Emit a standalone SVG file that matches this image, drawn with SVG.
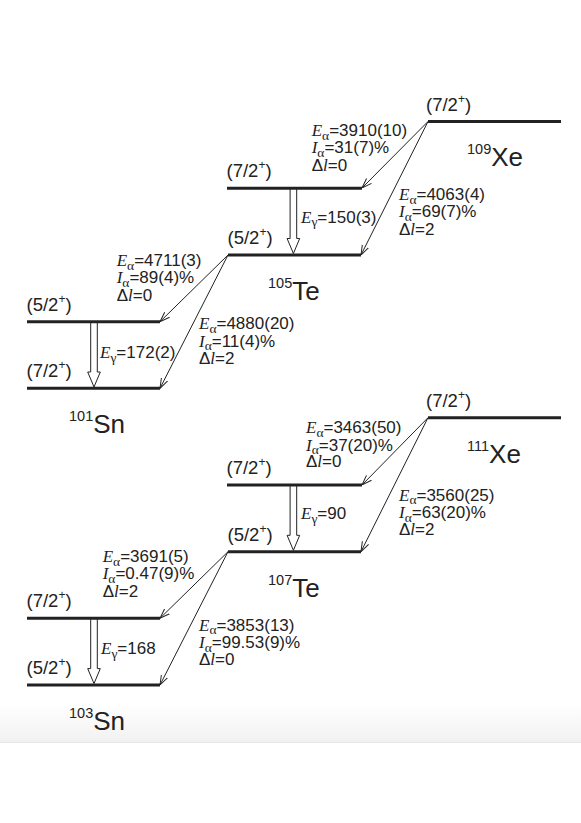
<svg xmlns="http://www.w3.org/2000/svg" width="581" height="823" viewBox="0 0 581 823">
<style>
.lvl{stroke:#222;stroke-width:3;fill:none}
.a{stroke:#222;stroke-width:1;fill:none;marker-end:url(#ah)}
.g{stroke:#222;stroke-width:1;fill:#fff}
text{font-family:"Liberation Sans",Arial,sans-serif;fill:#222}
.t{font-size:17px}
.lb{font-size:18.5px}
.nu{font-size:26px}
.ns{font-size:14.5px}
.it{font-family:"Liberation Serif","Times New Roman",serif;font-style:italic}
.sub{font-family:"Liberation Serif","Times New Roman",serif;font-size:13.5px}
.sup{font-size:12px}
</style>
<defs>
<marker id="ah" viewBox="0 0 10 10" refX="10" refY="5" markerWidth="10" markerHeight="10" markerUnits="userSpaceOnUse" orient="auto">
<path d="M0,1.5 L10,5 L0,8.5" fill="none" stroke="#222" stroke-width="1"/>
</marker>
<path id="garr" d="M-3.3,0 V50 H-6.3 L0,65 L6.3,50 H3.3 V0 Z"/>
<linearGradient id="bg" x1="0" y1="0" x2="0" y2="1">
<stop offset="0" stop-color="#ffffff"/>
<stop offset="1" stop-color="#f1f1f1"/>
</linearGradient>
</defs>
<rect x="0" y="0" width="581" height="823" fill="#fff"/>
<rect x="0" y="705" width="581" height="37" fill="url(#bg)"/>
<line x1="0" y1="742.5" x2="581" y2="742.5" stroke="#e6e6e6" stroke-width="1"/>

<g id="connectors">
<line class="a" x1="428" y1="121.5" x2="362" y2="188"/>
<line class="a" x1="428" y1="121.5" x2="361" y2="255"/>
<line class="a" x1="228" y1="255" x2="160" y2="321.7"/>
<line class="a" x1="228" y1="255" x2="160" y2="388.3"/>
<line class="a" x1="428" y1="417.7" x2="362" y2="485"/>
<line class="a" x1="428" y1="417.7" x2="361" y2="551.7"/>
<line class="a" x1="228" y1="551.7" x2="160" y2="618.3"/>
<line class="a" x1="228" y1="551.7" x2="160" y2="685"/>
<use href="#garr" class="g" transform="translate(293.4,188.5)"/>
<use href="#garr" class="g" transform="translate(94,322)"/>
<use href="#garr" class="g" transform="translate(293.4,485.3)"/>
<use href="#garr" class="g" transform="translate(94,618.6)"/>
</g>

<g id="xe109">
<line class="lvl" x1="428" y1="121.5" x2="561" y2="121.5"/>
<text class="lb" x="426" y="110.5">(7/2<tspan class="sup" dy="-8">+</tspan><tspan dy="8">)</tspan></text>
<text x="467" y="166"><tspan class="ns" dy="-12">109</tspan><tspan class="nu" dy="12">Xe</tspan></text>
</g>
<g id="te105-72">
<line class="lvl" x1="227" y1="188.3" x2="362" y2="188.3"/>
<text class="lb" x="226.5" y="177.3">(7/2<tspan class="sup" dy="-8">+</tspan><tspan dy="8">)</tspan></text>
</g>
<g id="te105-52">
<line class="lvl" x1="228" y1="255" x2="361" y2="255"/>
<text class="lb" x="227.5" y="244">(5/2<tspan class="sup" dy="-8">+</tspan><tspan dy="8">)</tspan></text>
<text x="268" y="300"><tspan class="ns" dy="-12">105</tspan><tspan class="nu" dy="12">Te</tspan></text>
</g>
<g id="sn101-52">
<line class="lvl" x1="27" y1="321.7" x2="160" y2="321.7"/>
<text class="lb" x="26.5" y="310.7">(5/2<tspan class="sup" dy="-8">+</tspan><tspan dy="8">)</tspan></text>
</g>
<g id="sn101-72">
<line class="lvl" x1="27" y1="388.3" x2="160" y2="388.3"/>
<text class="lb" x="26.5" y="377.3">(7/2<tspan class="sup" dy="-8">+</tspan><tspan dy="8">)</tspan></text>
<text x="69" y="433"><tspan class="ns" dy="-12">101</tspan><tspan class="nu" dy="12">Sn</tspan></text>
</g>

<g id="xe111">
<line class="lvl" x1="428" y1="417.7" x2="561" y2="417.7"/>
<text class="lb" x="426" y="407">(7/2<tspan class="sup" dy="-8">+</tspan><tspan dy="8">)</tspan></text>
<text x="467" y="463"><tspan class="ns" dy="-12">111</tspan><tspan class="nu" dy="12">Xe</tspan></text>
</g>
<g id="te107-72">
<line class="lvl" x1="227" y1="485" x2="362" y2="485"/>
<text class="lb" x="226.5" y="474">(7/2<tspan class="sup" dy="-8">+</tspan><tspan dy="8">)</tspan></text>
</g>
<g id="te107-52">
<line class="lvl" x1="228" y1="551.7" x2="361" y2="551.7"/>
<text class="lb" x="227.5" y="540.7">(5/2<tspan class="sup" dy="-8">+</tspan><tspan dy="8">)</tspan></text>
<text x="268" y="597"><tspan class="ns" dy="-12">107</tspan><tspan class="nu" dy="12">Te</tspan></text>
</g>
<g id="sn103-72">
<line class="lvl" x1="27" y1="618.3" x2="160" y2="618.3"/>
<text class="lb" x="26.5" y="607.3">(7/2<tspan class="sup" dy="-8">+</tspan><tspan dy="8">)</tspan></text>
</g>
<g id="sn103-52">
<line class="lvl" x1="27" y1="685" x2="160" y2="685"/>
<text class="lb" x="26.5" y="674">(5/2<tspan class="sup" dy="-8">+</tspan><tspan dy="8">)</tspan></text>
<text x="69" y="730"><tspan class="ns" dy="-12">103</tspan><tspan class="nu" dy="12">Sn</tspan></text>
</g>

<g id="labels">
<text class="t" x="311.7" y="136"><tspan class="it">E</tspan><tspan class="sub" dy="3.5">α</tspan><tspan dy="-3.5">=3910(10)</tspan></text>
<text class="t" x="311.7" y="153.3"><tspan class="it">I</tspan><tspan class="sub" dy="3.5">α</tspan><tspan dy="-3.5">=31(7)%</tspan></text>
<text class="t" x="311.7" y="170.7">Δ<tspan class="it">l</tspan>=0</text>

<text class="t" x="399" y="200"><tspan class="it">E</tspan><tspan class="sub" dy="3.5">α</tspan><tspan dy="-3.5">=4063(4)</tspan></text>
<text class="t" x="399" y="217.3"><tspan class="it">I</tspan><tspan class="sub" dy="3.5">α</tspan><tspan dy="-3.5">=69(7)%</tspan></text>
<text class="t" x="399" y="234.7">Δ<tspan class="it">l</tspan>=2</text>

<text class="t" x="301" y="222.7"><tspan class="it">E</tspan><tspan class="sub" dy="3.5">γ</tspan><tspan dy="-3.5">=150(3)</tspan></text>

<text class="t" x="116.7" y="266"><tspan class="it">E</tspan><tspan class="sub" dy="3.5">α</tspan><tspan dy="-3.5">=4711(3)</tspan></text>
<text class="t" x="116.7" y="283.3"><tspan class="it">I</tspan><tspan class="sub" dy="3.5">α</tspan><tspan dy="-3.5">=89(4)%</tspan></text>
<text class="t" x="116.7" y="300.7">Δ<tspan class="it">l</tspan>=0</text>

<text class="t" x="199" y="329.3"><tspan class="it">E</tspan><tspan class="sub" dy="3.5">α</tspan><tspan dy="-3.5">=4880(20)</tspan></text>
<text class="t" x="199" y="346.7"><tspan class="it">I</tspan><tspan class="sub" dy="3.5">α</tspan><tspan dy="-3.5">=11(4)%</tspan></text>
<text class="t" x="199" y="364">Δ<tspan class="it">l</tspan>=2</text>

<text class="t" x="100" y="358.3"><tspan class="it">E</tspan><tspan class="sub" dy="3.5">γ</tspan><tspan dy="-3.5">=172(2)</tspan></text>

<text class="t" x="306" y="433.3"><tspan class="it">E</tspan><tspan class="sub" dy="3.5">α</tspan><tspan dy="-3.5">=3463(50)</tspan></text>
<text class="t" x="306" y="450.7"><tspan class="it">I</tspan><tspan class="sub" dy="3.5">α</tspan><tspan dy="-3.5">=37(20)%</tspan></text>
<text class="t" x="306" y="467.3">Δ<tspan class="it">l</tspan>=0</text>

<text class="t" x="399" y="500.7"><tspan class="it">E</tspan><tspan class="sub" dy="3.5">α</tspan><tspan dy="-3.5">=3560(25)</tspan></text>
<text class="t" x="399" y="518"><tspan class="it">I</tspan><tspan class="sub" dy="3.5">α</tspan><tspan dy="-3.5">=63(20)%</tspan></text>
<text class="t" x="399" y="535">Δ<tspan class="it">l</tspan>=2</text>

<text class="t" x="301" y="519.3"><tspan class="it">E</tspan><tspan class="sub" dy="3.5">γ</tspan><tspan dy="-3.5">=90</tspan></text>

<text class="t" x="102.7" y="562.3"><tspan class="it">E</tspan><tspan class="sub" dy="3.5">α</tspan><tspan dy="-3.5">=3691(5)</tspan></text>
<text class="t" x="102.7" y="579.3"><tspan class="it">I</tspan><tspan class="sub" dy="3.5">α</tspan><tspan dy="-3.5">=0.47(9)%</tspan></text>
<text class="t" x="102.7" y="596.7">Δ<tspan class="it">l</tspan>=2</text>

<text class="t" x="199" y="630.7"><tspan class="it">E</tspan><tspan class="sub" dy="3.5">α</tspan><tspan dy="-3.5">=3853(13)</tspan></text>
<text class="t" x="199" y="648"><tspan class="it">I</tspan><tspan class="sub" dy="3.5">α</tspan><tspan dy="-3.5">=99.53(9)%</tspan></text>
<text class="t" x="199" y="665">Δ<tspan class="it">l</tspan>=0</text>

<text class="t" x="101" y="654"><tspan class="it">E</tspan><tspan class="sub" dy="3.5">γ</tspan><tspan dy="-3.5">=168</tspan></text>
</g>
</svg>
